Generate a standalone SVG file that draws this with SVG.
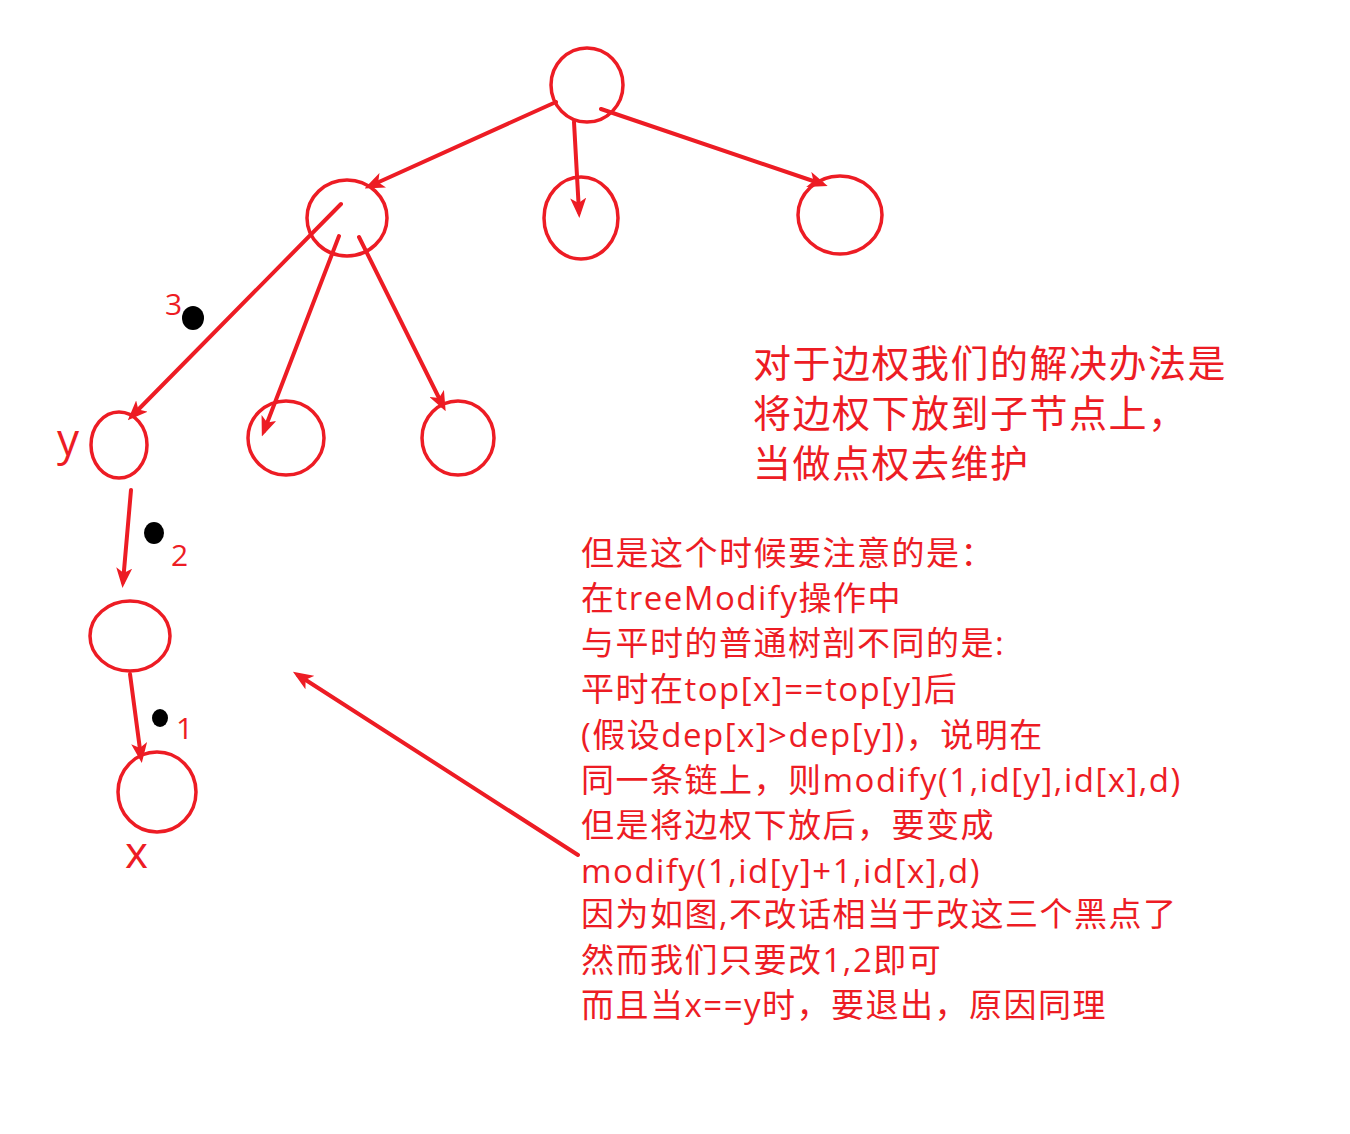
<svg xmlns="http://www.w3.org/2000/svg" width="1350" height="1134" viewBox="0 0 1350 1134">
<style>
.n{fill:none;stroke:#ed1c24;stroke-width:3.5}
.e{fill:none;stroke:#ed1c24;stroke-width:4;stroke-linecap:round;marker-end:url(#ah)}
.d{fill:#000}
.lbl{fill:#ed1c24;font-family:"Open Sans","Noto Sans CJK SC",sans-serif}
.t1{fill:#ed1c24;font-family:"Noto Sans CJK SC",sans-serif;font-size:38px;letter-spacing:1.5px}
.t2{fill:#ed1c24;font-family:"Open Sans","Noto Sans CJK SC",sans-serif;font-size:33px;letter-spacing:1.5px}
</style>
<defs>
<marker id="ah" viewBox="0 0 20 16" refX="14" refY="8" markerWidth="20" markerHeight="16" markerUnits="userSpaceOnUse" orient="auto">
<path d="M0,0 L20,8 L0,16 L5,8 z" fill="#ed1c24"/>
</marker>
</defs>
<rect width="1350" height="1134" fill="#fff"/>
<g id="connectors">
<line class="e" x1="556" y1="102" x2="370" y2="186"/>
<line class="e" x1="574" y1="122" x2="579" y2="212"/>
<line class="e" x1="601" y1="109" x2="822" y2="184"/>
<line class="e" x1="341" y1="204" x2="132" y2="416"/>
<line class="e" x1="339" y1="236" x2="264" y2="431"/>
<line class="e" x1="359" y1="237" x2="443" y2="406"/>
<line class="e" x1="131" y1="490" x2="123" y2="582"/>
<line class="e" x1="130" y1="674" x2="141" y2="757"/>
<line class="e" x1="578" y1="855" x2="298" y2="675"/>
</g>
<g id="root"><ellipse class="n" cx="587" cy="85" rx="36" ry="37"/></g>
<g id="nodeA"><ellipse class="n" cx="347" cy="218" rx="40" ry="38"/></g>
<g id="nodeB"><ellipse class="n" cx="581" cy="218" rx="37" ry="41"/></g>
<g id="nodeC"><ellipse class="n" cx="840" cy="215" rx="42" ry="39"/></g>
<g id="nodeY"><ellipse class="n" cx="119" cy="445" rx="28" ry="33"/><text class="lbl" x="57" y="455" font-size="44">y</text></g>
<g id="nodeD"><ellipse class="n" cx="286" cy="438" rx="38" ry="37"/></g>
<g id="nodeE"><ellipse class="n" cx="458" cy="438" rx="36" ry="37"/></g>
<g id="nodeF"><ellipse class="n" cx="130" cy="636" rx="40" ry="35"/></g>
<g id="nodeX"><ellipse class="n" cx="157" cy="792" rx="39" ry="40"/><text class="lbl" x="125" y="868" font-size="44">x</text></g>
<g id="marks">
<ellipse class="d" cx="193" cy="318" rx="11" ry="12"/>
<text class="lbl" x="165" y="315" font-size="30">3</text>
<ellipse class="d" cx="154" cy="533" rx="10" ry="11"/>
<text class="lbl" x="171" y="566" font-size="30">2</text>
<ellipse class="d" cx="160" cy="718" rx="8" ry="9"/>
<text class="lbl" x="176" y="739" font-size="30">1</text>
</g>
<g id="note1" class="t1">
<text x="753" y="377">对于边权我们的解决办法是</text>
<text x="753" y="427">将边权下放到子节点上，</text>
<text x="753" y="477">当做点权去维护</text>
</g>
<g id="note2" class="t2">
<text x="581" y="565">但是这个时候要注意的是：</text>
<text x="581" y="610">在treeModify操作中</text>
<text x="581" y="655">与平时的普通树剖不同的是:</text>
<text x="581" y="701">平时在top[x]==top[y]后</text>
<text x="581" y="747">(假设dep[x]&gt;dep[y])，说明在</text>
<text x="581" y="792">同一条链上，则modify(1,id[y],id[x],d)</text>
<text x="581" y="837">但是将边权下放后，要变成</text>
<text x="581" y="883">modify(1,id[y]+1,id[x],d)</text>
<text x="581" y="926">因为如图,不改话相当于改这三个黑点了</text>
<text x="581" y="972">然而我们只要改1,2即可</text>
<text x="581" y="1017">而且当x==y时，要退出，原因同理</text>
</g>
</svg>
